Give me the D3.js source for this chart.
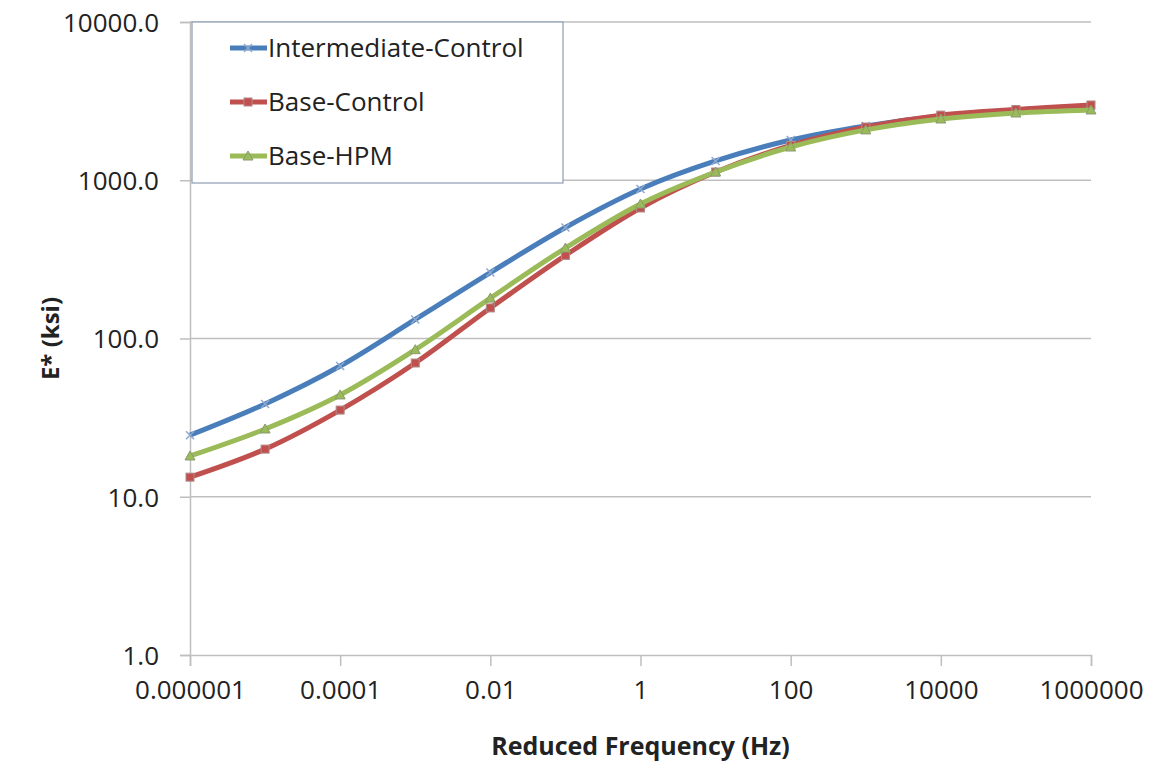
<!DOCTYPE html>
<html>
<head>
<meta charset="utf-8">
<script src="https://cdn.jsdelivr.net/npm/d3@7"></script>
<style>
  body { margin: 0; background: #fff; }
  svg { font-family: "Open Sans", sans-serif; }
</style>
</head>
<body>
<div id="chart"></div>
<script>
// reduced frequency, one point per decade
const frequencies = [1e-6, 1e-5, 1e-4, 1e-3, 1e-2, 1e-1, 1, 10, 100, 1e3, 1e4, 1e5, 1e6];
const intermediateControl = [24.5, 38.6, 67, 132, 261, 503, 880, 1324, 1795, 2203, 2547, 2780, 2945];
const baseControl = [13.3, 20, 35.3, 70, 156, 335, 668, 1127, 1660, 2170, 2580, 2800, 2990];
const baseHPM = [18.1, 26.8, 44, 85, 180, 373, 708, 1127, 1622, 2080, 2438, 2660, 2780];

const xTicks = [1e-6, 1e-4, 1e-2, 1, 100, 1e4, 1e6];
const xTickLabels = ['0.000001', '0.0001', '0.01', '1', '100', '10000', '1000000'];
const yTicks = [1, 10, 100, 1000, 10000];

const series = [
    { name: 'Intermediate-Control', values: intermediateControl, color: '#4a7ebb', marker: 'x' },
    { name: 'Base-Control', values: baseControl, color: '#c0504d', marker: 'square' },
    { name: 'Base-HPM', values: baseHPM, color: '#9bbb59', marker: 'triangle' },
];

function drawChart() {
    const width = 1153;
    const height = 762;
    const margin = { top: 22, right: 62, bottom: 107, left: 190 };

    const usableArea = {
        top: margin.top,
        right: width - margin.right,
        bottom: height - margin.bottom,
        left: margin.left,
        width: width - margin.left - margin.right,
        height: height - margin.top - margin.bottom,
    };

    const svg = d3.select('#chart').append('svg')
        .attr('width', width)
        .attr('height', height);

    const xScale = d3.scaleLog()
        .domain([1e-6, 1e6])
        .range([usableArea.left, usableArea.right]);

    const yScale = d3.scaleLog()
        .domain([1, 10000])
        .range([usableArea.bottom, usableArea.top]);

    // horizontal gridlines
    svg.append('g')
        .attr('class', 'gridlines')
        .selectAll('line')
        .data(yTicks.slice(1))
        .join('line')
        .attr('x1', usableArea.left)
        .attr('x2', usableArea.right)
        .attr('y1', (d) => yScale(d))
        .attr('y2', (d) => yScale(d))
        .attr('stroke', '#bfbfbf')
        .attr('stroke-width', 1.5);

    // axes
    const xAxis = d3.axisBottom(xScale)
        .tickValues(xTicks)
        .tickSize(11)
        .tickPadding(15)
        .tickFormat((d, i) => xTickLabels[i]);

    const yAxis = d3.axisLeft(yScale)
        .tickValues(yTicks)
        .tickSize(10)
        .tickPadding(21)
        .tickFormat(d3.format('.1f'));

    const gx = svg.append('g')
        .attr('transform', `translate(0, ${usableArea.bottom})`)
        .call(xAxis);

    const gy = svg.append('g')
        .attr('transform', `translate(${usableArea.left}, 0)`)
        .call(yAxis);

    [gx, gy].forEach((g) => {
        g.select('.domain').attr('stroke', '#bfbfbf').attr('stroke-width', 1.5);
        g.selectAll('.tick line').attr('stroke', '#bfbfbf').attr('stroke-width', 1.5);
        g.selectAll('.tick text')
            .attr('fill', '#222')
            .style('font-size', '26px')
            .style('font-family', '"Open Sans", sans-serif');
    });
    gy.selectAll('.tick text').attr('dy', '0.36em');

    // axis titles
    svg.append('text')
        .attr('x', usableArea.left + usableArea.width / 2)
        .attr('y', 755)
        .attr('text-anchor', 'middle')
        .style('font-size', '25px')
        .style('font-weight', 'bold')
        .attr('fill', '#222')
        .text('Reduced Frequency (Hz)');

    svg.append('text')
        .attr('transform', `translate(59, ${(usableArea.top + usableArea.bottom) / 2}) rotate(-90)`)
        .attr('text-anchor', 'middle')
        .style('font-size', '24px')
        .style('font-weight', 'bold')
        .attr('fill', '#222')
        .text('E* (ksi)');

    const line = d3.line()
        .x((d) => xScale(d[0]))
        .y((d) => yScale(d[1]))
        .curve(d3.curveCatmullRom.alpha(0.5));

    function drawMarker(g, type, color) {
        if (type === 'x') {
            g.append('path').attr('d', 'M-4,-4L4,4M-4,4L4,-4')
                .attr('stroke', '#8fa9cf').attr('stroke-width', 1.5).attr('fill', 'none');
        } else if (type === 'square') {
            g.append('rect').attr('x', -4).attr('y', -4).attr('width', 8).attr('height', 8)
                .attr('fill', color).attr('stroke', '#b08a8a').attr('stroke-width', 1);
        } else {
            g.append('path').attr('d', 'M0,-5L5,4L-5,4Z')
                .attr('fill', color).attr('stroke', '#8a9a70').attr('stroke-width', 1);
        }
    }

    const lines = svg.append('g').attr('class', 'lines');
    series.forEach((s) => {
        const pts = frequencies.map((f, i) => [f, s.values[i]]);
        const g = lines.append('g');
        g.append('path')
            .datum(pts)
            .attr('d', line)
            .attr('fill', 'none')
            .attr('stroke', s.color)
            .attr('stroke-width', 5)
            .attr('stroke-linejoin', 'round');
        g.selectAll('g.marker')
            .data(pts)
            .join('g')
            .attr('class', 'marker')
            .attr('transform', (d) => `translate(${xScale(d[0])}, ${yScale(d[1])})`)
            .each(function () { drawMarker(d3.select(this), s.marker, s.color); });
    });

    // legend
    const legend = svg.append('g').attr('transform', 'translate(192, 22)');
    legend.append('rect')
        .attr('width', 371)
        .attr('height', 161)
        .attr('fill', '#fff')
        .attr('stroke', '#8c9fb3')
        .attr('stroke-width', 1.2);

    series.forEach((s, i) => {
        const y = 26 + i * 54;
        const item = legend.append('g').attr('transform', `translate(0, ${y})`);
        item.append('line')
            .attr('x1', 38).attr('x2', 75)
            .attr('stroke', s.color).attr('stroke-width', 5);
        const m = item.append('g').attr('transform', 'translate(56, 0)');
        drawMarker(m, s.marker, s.color);
        item.append('text')
            .attr('x', 76)
            .attr('dy', '0.36em')
            .style('font-size', '26px')
            .attr('fill', '#222')
            .text(s.name);
    });
}

drawChart();
</script>
</body>
</html>
